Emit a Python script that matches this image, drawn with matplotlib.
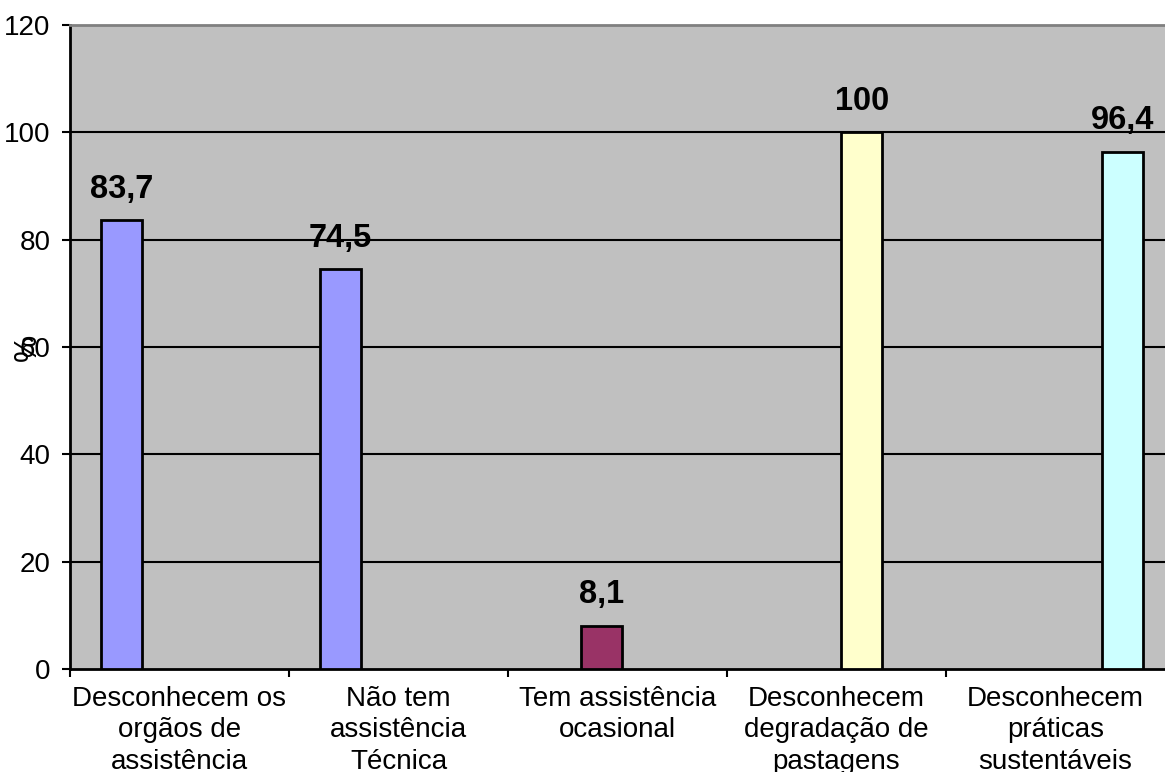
import matplotlib
matplotlib.use("Agg")
import matplotlib.pyplot as plt
import numpy as np

plt.rcParams['font.family'] = ['Liberation Sans', 'DejaVu Sans']

categories = [
    "Desconhecem os\norgãos de\nassistência",
    "Não tem\nassistência\nTécnica",
    "Tem assistência\nocasional",
    "Desconhecem\ndegradação de\npastagens",
    "Desconhecem\npráticas\nsustentáveis",
]
values = [83.7, 74.5, 8.1, 100, 96.4]
value_labels = ["83,7", "74,5", "8,1", "100", "96,4"]
# series each bar belongs to (grouped layout with four series)
series_index = [0, 0, 1, 2, 3]
series_colors = ["#9999FF", "#993366", "#FFFFCC", "#CCFFFF"]
y_ticks = [0, 20, 40, 60, 80, 100, 120]

W, H = 1165, 772
fig = plt.figure(figsize=(W / 100, H / 100), dpi=100)
fig.patch.set_facecolor("white")
ax = fig.add_axes([70 / W, (H - 669) / H, 1095 / W, 644 / H])
ax.set_facecolor("#C0C0C0")

n_series = len(series_colors)
bar_w = 0.187
step = 0.19
group_shift = 0.02
x = np.arange(len(categories))
offsets = [(s - (n_series - 1) / 2) * step + group_shift for s in series_index]
xpos = x + np.array(offsets)
colors = [series_colors[s] for s in series_index]

ax.set_xlim(-0.5, len(categories) - 0.5)
ax.set_ylim(0, 120)

# horizontal gridlines
for t in y_ticks[1:-1]:
    ax.axhline(t, color="black", lw=1.5, zorder=1)

ax.bar(xpos, values, width=bar_w, color=colors, edgecolor="black",
       linewidth=2, zorder=3)

for xp, v, lab in zip(xpos, values, value_labels):
    ax.annotate(lab, (xp, v), xytext=(0, 16), textcoords="offset points",
                ha="center", va="baseline", fontsize=23.5, fontweight="bold",
                zorder=4)

# spines
ax.spines["left"].set_color("black")
ax.spines["left"].set_linewidth(2)
ax.spines["bottom"].set_color("black")
ax.spines["bottom"].set_linewidth(2)
ax.spines["top"].set_color("#808080")
ax.spines["top"].set_linewidth(2)
ax.spines["right"].set_visible(False)

ax.set_yticks(y_ticks)
ax.set_yticklabels([str(t) for t in y_ticks])
ax.tick_params(axis="y", length=6, width=1.5, pad=8, labelsize=20,
               direction="out")

# category labels at centres, tick marks at category boundaries
ax.set_xticks(x)
ax.set_xticklabels(categories, linespacing=1.28)
ax.tick_params(axis="x", which="major", length=0, pad=12, labelsize=20)
ax.set_xticks(np.arange(-0.5, len(categories) - 0.5, 1.0), minor=True)
ax.tick_params(axis="x", which="minor", length=6, width=1.5, direction="out")

fig.text(28 / W, 1 - 347 / H, "%", rotation=90, ha="center", va="center",
         fontsize=22)

fig.savefig("out.png", dpi=100, facecolor="white")
